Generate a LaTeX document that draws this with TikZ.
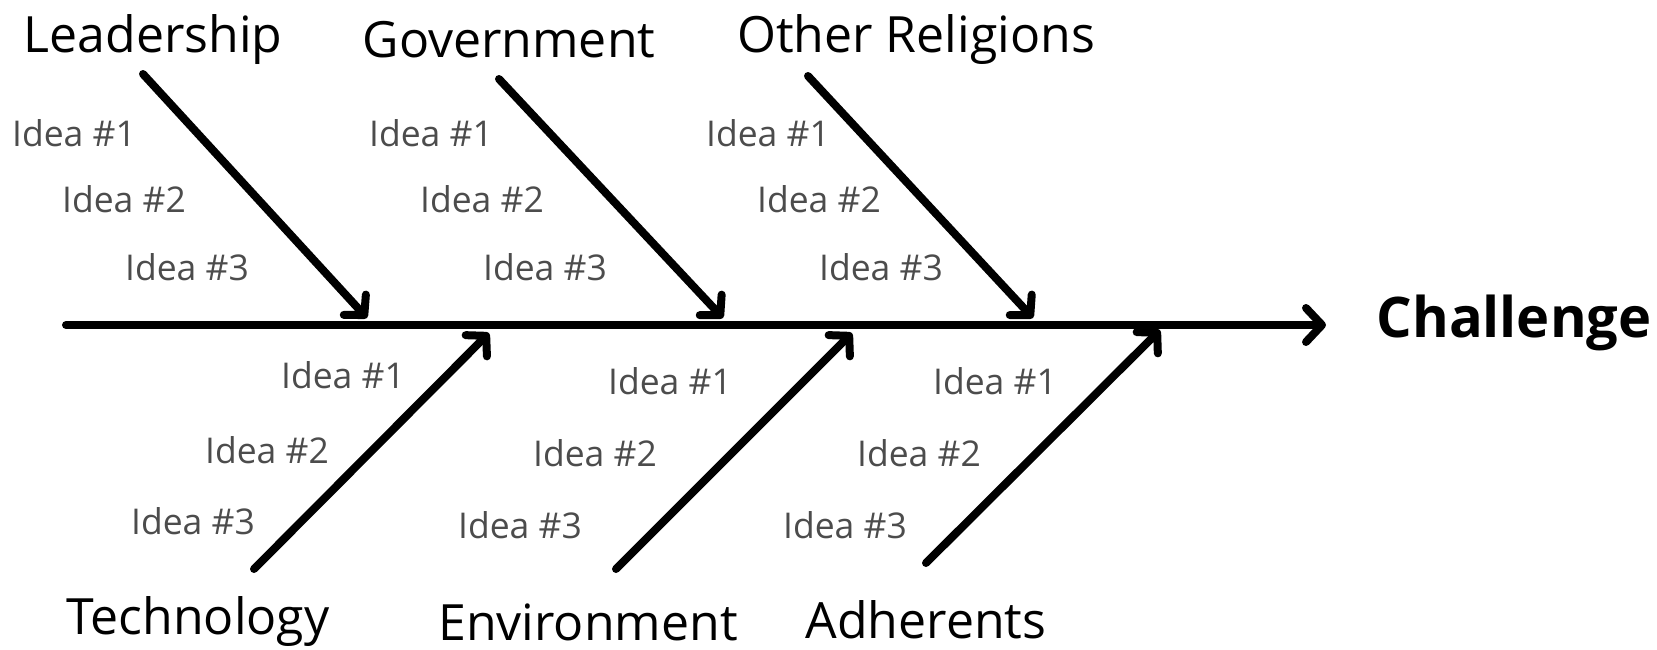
\documentclass[tikz,border=0pt]{standalone}
\usepackage{fontspec}
\setmainfont{Open Sans}
\usetikzlibrary{arrows.meta}
\tikzset{
  cause/.style={font=\fontsize{50}{56}\selectfont},
  idea/.style={font=\fontsize{35.5}{40}\selectfont, text=black!70},
  bone/.style={line width=8pt, line cap=round, -{Straight Barb[round,length=14pt,width=30pt]}},
}
\begin{document}
\begin{tikzpicture}
      [x=1pt, y=-1pt]
      \useasboundingbox (0, 0) rectangle (1657, 650);
      \coordinate(s) at (66, 325);
      \coordinate(e) at (1326, 325);
      \node[anchor=west, font=\fontsize{56}{62}\selectfont\bfseries](C) at (1373, 323) {Challenge};
      \draw[bone, -{Straight Barb[round,length=16pt,width=34pt]}](s) -- (e);
      \node[cause](L) at (153, 40) {Leadership};
      \node[cause](G) at (509, 40) {Government};
      \node[cause](R) at (916, 40) {Other Religions};
      \node[cause](T) at (198, 622) {Technology};
      \node[cause](E) at (588, 622) {Environment};
      \node[cause](A) at (926, 620) {Adherents};
      \coordinate(L0) at (143, 74);
      \coordinate(L9) at (367, 318);
      \coordinate(G0) at (499, 79);
      \coordinate(G9) at (723, 318);
      \coordinate(R0) at (808, 76);
      \coordinate(R9) at (1033, 318);
      \coordinate(T0) at (254, 569);
      \coordinate(T9) at (489, 333);
      \coordinate(E0) at (616, 569);
      \coordinate(E9) at (852, 333);
      \coordinate(A0) at (926, 563);
      \coordinate(A9) at (1160, 330);
      \draw[bone](L0) -- (L9);
      \draw[bone](G0) -- (G9);
      \draw[bone](R0) -- (R9);
      \draw[bone](T0) -- (T9);
      \draw[bone](E0) -- (E9);
      \draw[bone](A0) -- (A9);
      \node[idea](L1) at (74, 133) {Idea \#1};
      \node[idea](L2) at (124, 199) {Idea \#2};
      \node[idea](L3) at (187, 267) {Idea \#3};
      \node[idea](G1) at (431, 133) {Idea \#1};
      \node[idea](G2) at (482, 199) {Idea \#2};
      \node[idea](G3) at (545, 267) {Idea \#3};
      \node[idea](R1) at (768, 133) {Idea \#1};
      \node[idea](R2) at (819, 199) {Idea \#2};
      \node[idea](R3) at (881, 267) {Idea \#3};
      \node[idea](T1) at (343, 375) {Idea \#1};
      \node[idea](T2) at (267, 450) {Idea \#2};
      \node[idea](T3) at (193, 521) {Idea \#3};
      \node[idea](E1) at (670, 381) {Idea \#1};
      \node[idea](E2) at (595, 453) {Idea \#2};
      \node[idea](E3) at (520, 525) {Idea \#3};
      \node[idea](A1) at (995, 381) {Idea \#1};
      \node[idea](A2) at (919, 453) {Idea \#2};
      \node[idea](A3) at (845, 525) {Idea \#3};
  \end{tikzpicture}
\end{document}
